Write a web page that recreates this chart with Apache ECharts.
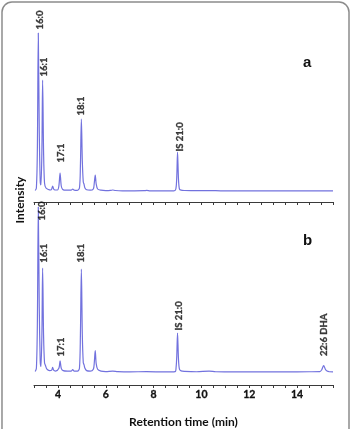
<!DOCTYPE html>
<html>
<head>
<meta charset="utf-8">
<script src="https://cdn.jsdelivr.net/npm/echarts@6/dist/echarts.min.js"></script>
<style>
html,body{margin:0;padding:0;background:#fff;}
#c{width:352px;height:429px;}
</style>
</head>
<body>
<div id="c"></div>
<script>
// Retention time (min) and intensity (arbitrary units)
var timeA = [3.05,3.10,3.14,3.18,3.22,3.26,3.29,3.33,3.36,3.40,3.44,3.50,3.60,3.70,3.74,3.78,3.82,3.88,3.98,4.04,4.09,4.14,4.20,4.35,4.55,4.62,4.68,4.80,4.90,4.94,4.98,5.02,5.06,5.09,5.13,5.20,5.35,5.48,5.52,5.56,5.60,5.66,5.80,6.00,6.20,6.29,6.40,6.70,7.20,7.60,7.71,7.85,8.40,8.85,8.93,8.97,9.00,9.04,9.08,9.15,9.30,9.80,10.32,10.80,11.50,12.50,13.50,14.50,15.50];
var intensityA = [0.5,3,40,158,60,10,6,40,111,40,8,3,1.5,1,2,5,2,1,1,5,18,5,1.5,0.8,0.8,2,0.8,0.6,3,25,72,30,9,7,3,1.2,0.8,2,8,16,7,2,0.8,0.4,0.6,1,0.5,0.2,0.2,0.3,0.6,0.2,0.1,0.2,2,15,39,12,2,0.8,0.5,0.3,0.4,0.2,0.1,0.1,0.1,0.1,0.2];

var timeB = [3.05,3.10,3.14,3.18,3.22,3.26,3.29,3.33,3.36,3.40,3.44,3.48,3.54,3.65,3.74,3.78,3.82,3.90,4.04,4.09,4.14,4.22,4.40,4.55,4.62,4.68,4.82,4.90,4.94,4.98,5.02,5.06,5.09,5.13,5.20,5.35,5.48,5.52,5.56,5.60,5.66,5.80,6.00,6.29,6.50,7.00,7.70,8.50,8.90,8.94,8.97,9.00,9.04,9.08,9.15,9.30,9.80,10.32,10.60,11.50,12.50,13.50,14.50,14.95,15.03,15.11,15.18,15.25,15.35,15.50];
var intensityB = [0.5,4,50,178,70,12,6,40,112,40,10,7,3,1.5,2,5,2,1,4,12,4,1.5,1,1,2.5,1,1,4,40,111,40,10,8,4,1.5,1,3,10,23,9,3,1,0.5,1,0.5,0.2,0.4,0.1,0.5,5,18,42,14,3,1.2,0.7,0.3,1,0.3,0.1,0.1,0.1,0.3,0.5,2.5,7,3,1,0.3,0.2];

var peakNamesA = ['16:0','16:1','17:1','18:1','IS 21:0'];
var peakTimesA = [3.18,3.36,4.09,4.98,9.00];
var peakHeightsA = [158,111,18,72,39];

var peakNamesB = ['16:0','16:1','17:1','18:1','IS 21:0','22:6 DHA'];
var peakTimesB = [3.18,3.36,4.09,4.98,9.00,15.11];
var peakHeightsB = [178,112,12,111,42,7];

var xTickLabels = [4,6,8,10,12,14];

// label placement tweaks (style): [extra distance up, shift right]
var labelTweakA = {'16:0':[2,1.5],'16:1':[2,1.5],'17:1':[9,0.5],'18:1':[2,0],'IS 21:0':[-1,2.5]};
var labelTweakB = {'16:0':[-15,4],'16:1':[4,1.5],'17:1':[3,1],'18:1':[5,0],'IS 21:0':[1,1.5],'22:6 DHA':[8,0]};

function pairs(t, v){ return t.map(function(x,i){ return [x, v[i]]; }); }

var FONT = 'Lato, "Open Sans", sans-serif';
var LINE = '#7272de';

function labelSeries(names, times, heights, tweak, idx){
  return {
    type:'scatter', xAxisIndex:idx, yAxisIndex:idx, symbolSize:1,
    itemStyle:{color:'rgba(0,0,0,0)'}, silent:true, z:5,
    data: names.map(function(n,i){
      var tw = tweak[n] || [2,0];
      return {
        name:n, value:[times[i], heights[i]],
        label:{show:true, position:'top', distance:1+tw[0], rotate:90, align:'left', verticalAlign:'middle',
          offset:[0, tw[1]], formatter:'{b}', fontFamily:FONT, fontWeight:'bold', fontSize:9.5, color:'#111',
          textBorderColor:'#111', textBorderWidth:0.35}
      };
    })
  };
}

function xAxisCfg(idx, showLabels){
  return {
    type:'value', gridIndex:idx, min:3, max:15.5, interval:0.5,
    axisLine:{show:true, onZero:false, lineStyle:{color:'#3a3a3a', width:1}},
    axisTick:{show:true, length:3, lineStyle:{color:'#3a3a3a'}},
    splitLine:{show:false},
    axisLabel:{show:showLabels, margin:4, fontFamily:FONT, fontWeight:'bold', fontSize:10.5, color:'#111',
      textBorderColor:'#111', textBorderWidth:0.3,
      formatter:function(v){ return xTickLabels.indexOf(v) >= 0 ? String(v) : ''; }},
    name: showLabels ? 'Retention time (min)' : '',
    nameLocation:'middle', nameGap:31,
    nameTextStyle:{fontFamily:FONT, fontWeight:'bold', fontSize:12, color:'#111'}
  };
}

var chart = echarts.init(document.getElementById('c'), null, {renderer:'canvas'});
chart.setOption({
  backgroundColor:'#ffffff',
  animation:false,
  title:[
    {text:'a', left:298, top:50, textStyle:{fontFamily:'"Liberation Sans", Arial, sans-serif', fontWeight:'bold', fontSize:15, color:'#111'}},
    {text:'b', left:298, top:228, textStyle:{fontFamily:'"Liberation Sans", Arial, sans-serif', fontWeight:'bold', fontSize:15, color:'#111'}}
  ],
  graphic:[
    {type:'rect', shape:{x:2, y:2, width:347, height:470, r:10}, style:{fill:'none', stroke:'#8c8c8c', lineWidth:1.5}, silent:true},
    {type:'text', x:20, y:200, rotation:Math.PI/2, style:{text:'Intensity', fontFamily:FONT, fontWeight:'bold', fontSize:12, fill:'#111', align:'center', verticalAlign:'middle'}}
  ],
  grid:[
    {left:34, width:299, top:33, height:169},
    {left:34, width:299, top:207, height:192}
  ],
  xAxis:[xAxisCfg(0,false), xAxisCfg(1,true)],
  yAxis:[
    {type:'value', gridIndex:0, min:-11, max:158, show:false, splitLine:{show:false}},
    {type:'value', gridIndex:1, min:-14, max:178, show:false, splitLine:{show:false}}
  ],
  series:[
    {type:'line', xAxisIndex:0, yAxisIndex:0, data:pairs(timeA,intensityA), showSymbol:false, smooth:0.3, clip:false,
      lineStyle:{color:LINE, width:1.2}},
    {type:'line', xAxisIndex:1, yAxisIndex:1, data:pairs(timeB,intensityB), showSymbol:false, smooth:0.3, clip:false,
      lineStyle:{color:LINE, width:1.2}},
    labelSeries(peakNamesA, peakTimesA, peakHeightsA, labelTweakA, 0),
    labelSeries(peakNamesB, peakTimesB, peakHeightsB, labelTweakB, 1)
  ]
});
</script>
</body>
</html>
